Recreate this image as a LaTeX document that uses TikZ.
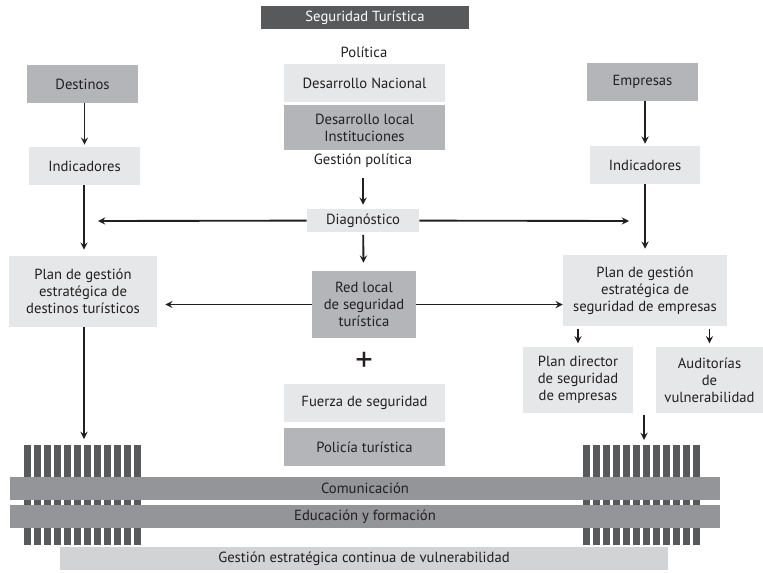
\documentclass[tikz,border=0pt]{standalone}
\usepackage{fontspec}
\setmainfont{PT Sans}
\definecolor{oscuro}{HTML}{58595B}
\definecolor{medio}{HTML}{B3B5B8}
\definecolor{claro}{HTML}{E6E7E8}
\definecolor{barra}{HTML}{939598}
\definecolor{fondo}{HTML}{D1D3D4}
\definecolor{tinta}{HTML}{231F20}
\begin{document}
\begin{tikzpicture}[x=0.75pt,y=-0.75pt,>=stealth,line join=round,font=\fontsize{11}{12.8}\selectfont,
	caja/.style={fill=claro,text=tinta,align=center,inner sep=0pt},
	cajam/.style={caja,fill=medio},
	banda/.style={caja,fill=barra,minimum width=533pt,minimum height=17.25pt},
	flecha/.style={->,line width=1.4pt,draw=tinta}]
	\useasboundingbox (0,0) rectangle (763,572);
	% columna central
	\node[caja,fill=oscuro,text=white,minimum width=156pt,minimum height=17pt] (tit) at (365,17.5) {Seguridad Turística};
	\node[text=tinta] (pol) at (364,52) {Política};
	\node[caja,minimum width=121pt,minimum height=28.5pt] (nac) at (364.5,83) {Desarrollo Nacional};
	\node[cajam,minimum width=121pt,minimum height=33.75pt] (loc) at (364.5,127.5) {Desarrollo local\\Instituciones};
	\node[text=tinta] (gpol) at (363,161) {Gestión política};
	\node[caja,minimum width=84pt,minimum height=17.25pt] (diag) at (363,220.5) {Diagnóstico};
	\node[cajam,minimum width=78pt,minimum height=50.25pt] (red) at (364,304.5) {Red local\\de seguridad\\turística};
	\node[text=tinta,font=\fontsize{26}{26}\selectfont] (mas) at (364,362) {+};
	\node[caja,minimum width=121pt,minimum height=28.5pt] (fza) at (364.5,403) {Fuerza de seguridad};
	\node[cajam,minimum width=121pt,minimum height=28.5pt] (poli) at (364.5,447) {Policía turística};
	% columna izquierda
	\node[cajam,minimum width=83.25pt,minimum height=28.5pt] (dest) at (82.5,84) {Destinos};
	\node[caja,minimum width=83.25pt,minimum height=28.5pt] (indL) at (84.5,166) {Indicadores};
	\node[caja,minimum width=111pt,minimum height=53.25pt] (planL) at (83,291.5) {Plan de gestión\\estratégica de\\destinos turísticos};
	% columna derecha
	\node[cajam,minimum width=83.25pt,minimum height=28.5pt] (emp) at (642.5,82) {Empresas};
	\node[caja,minimum width=82.5pt,minimum height=28.5pt] (indR) at (645,165) {Indicadores};
	\node[caja,minimum width=123pt,minimum height=53.25pt] (planR) at (645,290.5) {Plan de gestión\\estratégica de\\seguridad de empresas};
	\node[caja,minimum width=82.5pt,minimum height=49.5pt] (dir) at (578,380) {Plan director\\de seguridad\\de empresas};
	\node[caja,minimum width=80.25pt,minimum height=49.5pt] (aud) at (709.5,380) {Auditorías\\de\\vulnerabilidad};
	% rejillas y bandas
	\foreach \x in {24,583}
		\foreach \i in {0,...,11}
			\fill[oscuro] (\x+10*\i,445) rectangle ++(7,100);
	\node[banda] (com) at (365,488.5) {Comunicación};
	\node[banda] (edu) at (365,516.5) {Educación y formación};
	\node[caja,fill=fondo,minimum width=456pt,minimum height=17.25pt] (gest) at (364,558.5) {Gestión estratégica continua de vulnerabilidad};
	% extremos libres
	\path (98,221) coordinate (dL) (629,221) coordinate (dR)
		(84,439) coordinate (bL) (644,415) coordinate (rA) (644,440) coordinate (rB);
	% flechas
	\draw[flecha,shorten >=1.5pt] (dest.south -| indL) -- (indL);
	\draw[flecha,shorten >=1.5pt] (emp.south -| indR) -- (indR);
	\draw[flecha,shorten >=4.5pt] (indL.south -| bL) -- (bL |- planL.north);
	\draw[flecha,shorten >=4.5pt] (indR) -- (indR |- planR.north);
	\draw[flecha,shorten <=4pt,shorten >=3pt] (gpol) -- (diag);
	\draw[flecha] (diag) -- (dL);
	\draw[flecha] (diag) -- (dR);
	\draw[flecha,shorten <=2pt,shorten >=6pt] (diag) -- (red);
	\draw[flecha,shorten >=6pt] (red) -- (red -| planL.east);
	\draw[flecha] (red) -- (red -| planR.west);
	\draw[flecha,shorten <=2pt,shorten >=2.5pt] (dir |- planR.south) -- (dir);
	\draw[flecha,shorten <=2pt,shorten >=2.5pt] (aud |- planR.south) -- (aud);
	\draw[flecha] (bL |- planL.south) -- (bL);
	\draw[flecha] (rA) -- (rB);
\end{tikzpicture}
\end{document}
